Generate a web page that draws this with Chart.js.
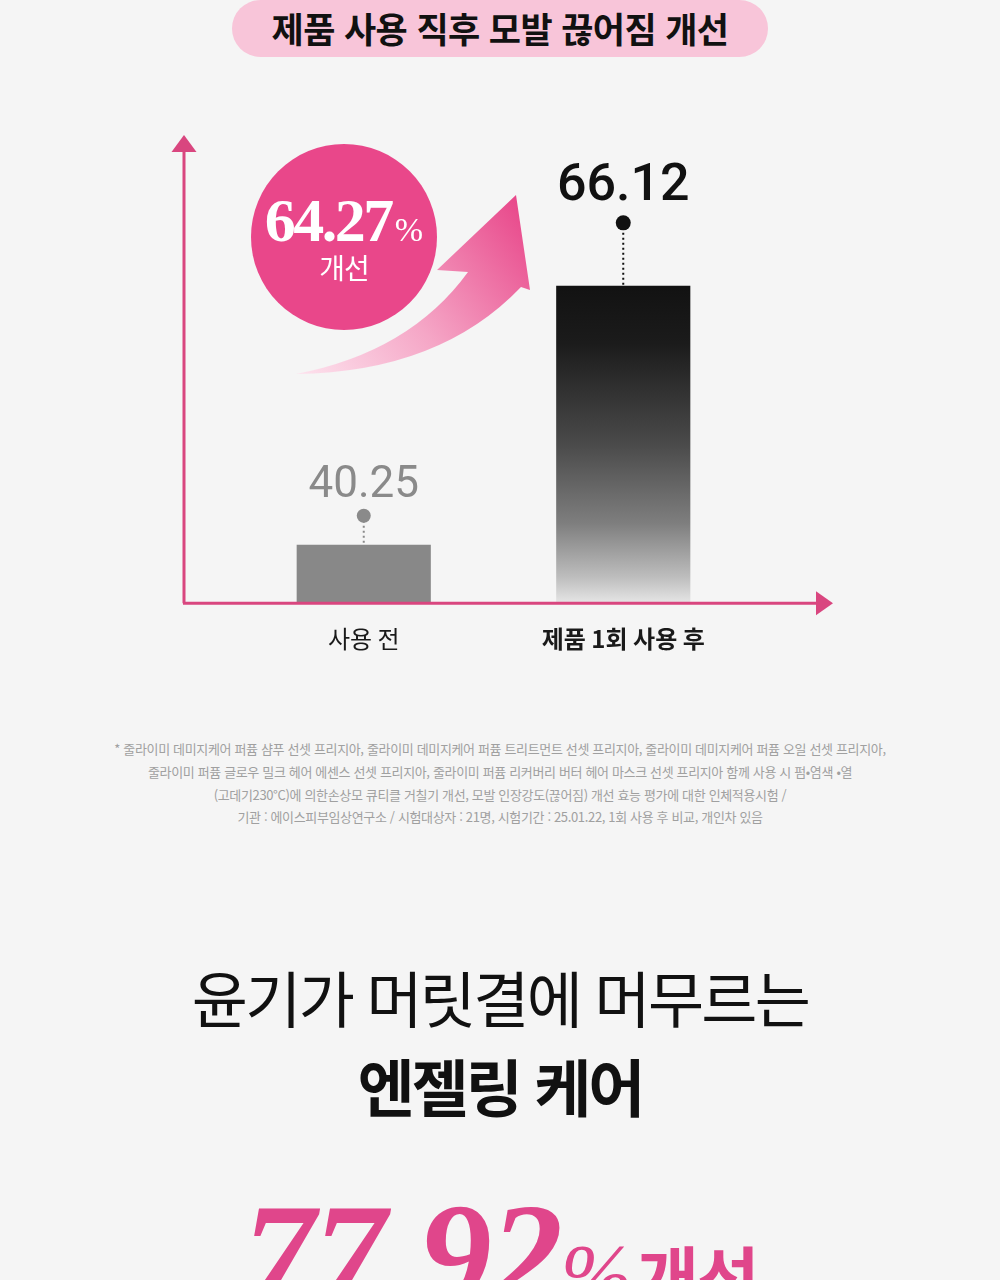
<!DOCTYPE html>
<html lang="ko">
<head>
<meta charset="utf-8">
<script src="https://cdn.jsdelivr.net/npm/chart.js@4.4.1/dist/chart.umd.min.js"></script>
<style>
  html, body { margin: 0; padding: 0; }
  body { width: 1000px; height: 1280px; background: #f5f5f5; position: relative; overflow: hidden;
         font-family: "Noto Sans CJK KR", "Noto Sans", sans-serif; }
  .pill { position: absolute; left: 232px; top: 0; width: 536px; height: 57px; border-radius: 29px;
          background: #f8c5d9; text-align: center; line-height: 55px; font-size: 35px; font-weight: 700;
          color: #111; letter-spacing: -0.6px; }
  #wrap { position: absolute; left: 0; top: 0; width: 1000px; height: 690px; }
  .badge { position: absolute; left: 251px; top: 144px; width: 186px; height: 186px; border-radius: 50%;
           background: #e9478a; color: #fff; text-align: center; }
  .badge .num { position: absolute; left: 0; right: 0; top: 44px; font-family: "Liberation Serif", serif;
                font-weight: 700; font-size: 62px; line-height: 64px; letter-spacing: -2.5px; }
  .badge .num small { font-weight: 400; font-size: 34px; letter-spacing: 0; margin-left: 3px; }
  .badge .lbl { position: absolute; left: 0; right: 0; top: 107px; font-size: 28px; line-height: 32px;
                letter-spacing: -1px; }
  svg.arrow { position: absolute; left: 0; top: 0; }
  .note { position: absolute; left: 0; top: 738px; width: 1000px; text-align: center; font-size: 13px;
          line-height: 22.8px; color: #a0a0a0; letter-spacing: -0.35px; }
  .h1 { position: absolute; left: 0; width: 1000px; text-align: center; color: #111; }
  .big { position: absolute; left: 0; width: 1000px; text-align: center; top: 1171px; color: #e0468b;
         white-space: nowrap; }
  .big .n { font-family: "Liberation Serif", serif; font-style: italic; font-weight: 700; font-size: 146px;
            letter-spacing: -2px; }
  .big .p { font-family: "Liberation Serif", serif; font-style: italic; font-size: 86px; }
  .big .k { font-size: 68px; font-weight: 700; margin-left: 4px; letter-spacing: -2px; }
</style>
</head>
<body>
<div class="pill">제품 사용 직후 모발 끊어짐 개선</div>

<div id="wrap"><canvas id="barChart" width="1000" height="690"></canvas></div>

<svg class="arrow" width="1000" height="700">
  <defs>
    <linearGradient id="arrowGrad" x1="296" y1="374" x2="520" y2="200" gradientUnits="userSpaceOnUse">
      <stop offset="0" stop-color="#fde3ee"/>
      <stop offset="0.45" stop-color="#f5a6c6"/>
      <stop offset="1" stop-color="#e8478a"/>
    </linearGradient>
  </defs>
  <path d="M296,374 Q410,352 468,272 L437,270 L516,195 L530,290 L521,287 Q440,372 296,374 Z" fill="url(#arrowGrad)"/>
</svg>

<div class="badge">
  <div class="num">64.27<small>%</small></div>
  <div class="lbl">개선</div>
</div>

<div class="note">
  * 줄라이미 데미지케어 퍼퓸 샴푸 선셋 프리지아, 줄라이미 데미지케어 퍼퓸 트리트먼트 선셋 프리지아, 줄라이미 데미지케어 퍼퓸 오일 선셋 프리지아,<br>
  줄라이미 퍼퓸 글로우 밀크 헤어 에센스 선셋 프리지아, 줄라이미 퍼퓸 리커버리 버터 헤어 마스크 선셋 프리지아 함께 사용 시 펌•염색 •열<br>
  (고데기230°C)에 의한손상모 큐티클 거칠기 개선, 모발 인장강도(끊어짐) 개선 효능 평가에 대한 인체적용시험 /<br>
  기관 : 에이스피부임상연구소 / 시험대상자 : 21명, 시험기간 : 25.01.22, 1회 사용 후 비교, 개인차 있음
</div>

<div class="h1" style="top:964px; font-size:61px; line-height:66px; font-weight:400; letter-spacing:-2.7px;">윤기가 머릿결에 머무르는</div>
<div class="h1" style="top:1052px; font-size:62px; line-height:66px; font-weight:700; letter-spacing:-3px;">엔젤링 케어</div>

<div class="big"><span class="n">77.92</span><span class="p">%</span><span class="k">개선</span></div>

<script>
// chart data
const categories = ['사용 전', '제품 1회 사용 후'];
const values = [40.25, 66.12];
const valueLabels = ['40.25', '66.12'];
const yMin = 34.5;
const yMax = 81;

const pink = '#d9467f';

// value label + dot + dotted stem above each bar
const markerPlugin = {
  id: 'markers',
  afterDatasetsDraw(chart) {
    const ctx = chart.ctx;
    const meta = chart.getDatasetMeta(0);
    const styles = [
      { color: '#8a8a8a', font: '400 44px Roboto', dot: 29, text: 48, r: 7 },
      { color: '#111111', font: '500 52px Roboto', dot: 63, text: 86, r: 7.5 }
    ];
    meta.data.forEach((bar, i) => {
      const s = styles[i];
      ctx.save();
      ctx.strokeStyle = s.color;
      ctx.fillStyle = s.color;
      ctx.lineWidth = 2;
      ctx.setLineDash([2, 3]);
      ctx.beginPath();
      ctx.moveTo(bar.x, bar.y - s.dot);
      ctx.lineTo(bar.x, bar.y);
      ctx.stroke();
      ctx.setLineDash([]);
      ctx.beginPath();
      ctx.arc(bar.x, bar.y - s.dot, s.r, 0, Math.PI * 2);
      ctx.fill();
      ctx.font = s.font;
      ctx.textAlign = 'center';
      ctx.textBaseline = 'alphabetic';
      ctx.fillText(valueLabels[i], bar.x, bar.y - s.text);
      ctx.restore();
    });
  }
};

// pink axes with arrow heads
const axesPlugin = {
  id: 'pinkAxes',
  afterDatasetsDraw(chart) {
    const ctx = chart.ctx;
    const a = chart.chartArea;
    const x0 = a.left - 50;
    const y0 = a.bottom + 1;
    ctx.save();
    ctx.strokeStyle = pink;
    ctx.fillStyle = pink;
    ctx.lineWidth = 3;
    ctx.beginPath();
    ctx.moveTo(x0, y0);
    ctx.lineTo(x0, a.top + 14);
    ctx.moveTo(x0 - 1, y0);
    ctx.lineTo(a.right + 64, y0);
    ctx.stroke();
    ctx.beginPath();
    ctx.moveTo(x0, a.top - 2);
    ctx.lineTo(x0 + 12.5, a.top + 15);
    ctx.lineTo(x0 - 12.5, a.top + 15);
    ctx.closePath();
    ctx.fill();
    ctx.beginPath();
    ctx.moveTo(a.right + 80, y0);
    ctx.lineTo(a.right + 63, y0 - 12);
    ctx.lineTo(a.right + 63, y0 + 12);
    ctx.closePath();
    ctx.fill();
    ctx.restore();
  }
};

function barFill(context) {
  if (context.dataIndex === 0) return '#888888';
  const chart = context.chart;
  const a = chart.chartArea;
  if (!a) return '#333333';
  const top = chart.scales.y.getPixelForValue(values[1]);
  const g = chart.ctx.createLinearGradient(0, top, 0, a.bottom);
  g.addColorStop(0, '#121212');
  g.addColorStop(0.18, '#1b1b1b');
  g.addColorStop(0.5, '#4a4a4a');
  g.addColorStop(0.75, '#7e7e7e');
  g.addColorStop(0.92, '#bdbdbd');
  g.addColorStop(1, '#e4e4e4');
  return g;
}

Chart.defaults.font.family = '"Noto Sans CJK KR", sans-serif';

const ctx = document.getElementById('barChart').getContext('2d');
const barChart = new Chart(ctx, {
  type: 'bar',
  data: {
    labels: categories,
    datasets: [{
      data: values,
      backgroundColor: barFill,
      borderWidth: 0,
      categoryPercentage: 1,
      barPercentage: 0.517
    }]
  },
  options: {
    responsive: false,
    animation: false,
    devicePixelRatio: 1,
    layout: { padding: { left: 234, right: 247, top: 137, bottom: 15 } },
    plugins: { legend: { display: false }, tooltip: { enabled: false } },
    scales: {
      x: {
        grid: { display: false, drawTicks: false },
        border: { display: false },
        ticks: {
          padding: 22,
          color: '#1a1a1a',
          font: (c) => ({ size: 24, weight: c.index === 1 ? '700' : '400' })
        }
      },
      y: { display: false, min: yMin, max: yMax }
    }
  },
  plugins: [axesPlugin, markerPlugin]
});
</script>
</body>
</html>
